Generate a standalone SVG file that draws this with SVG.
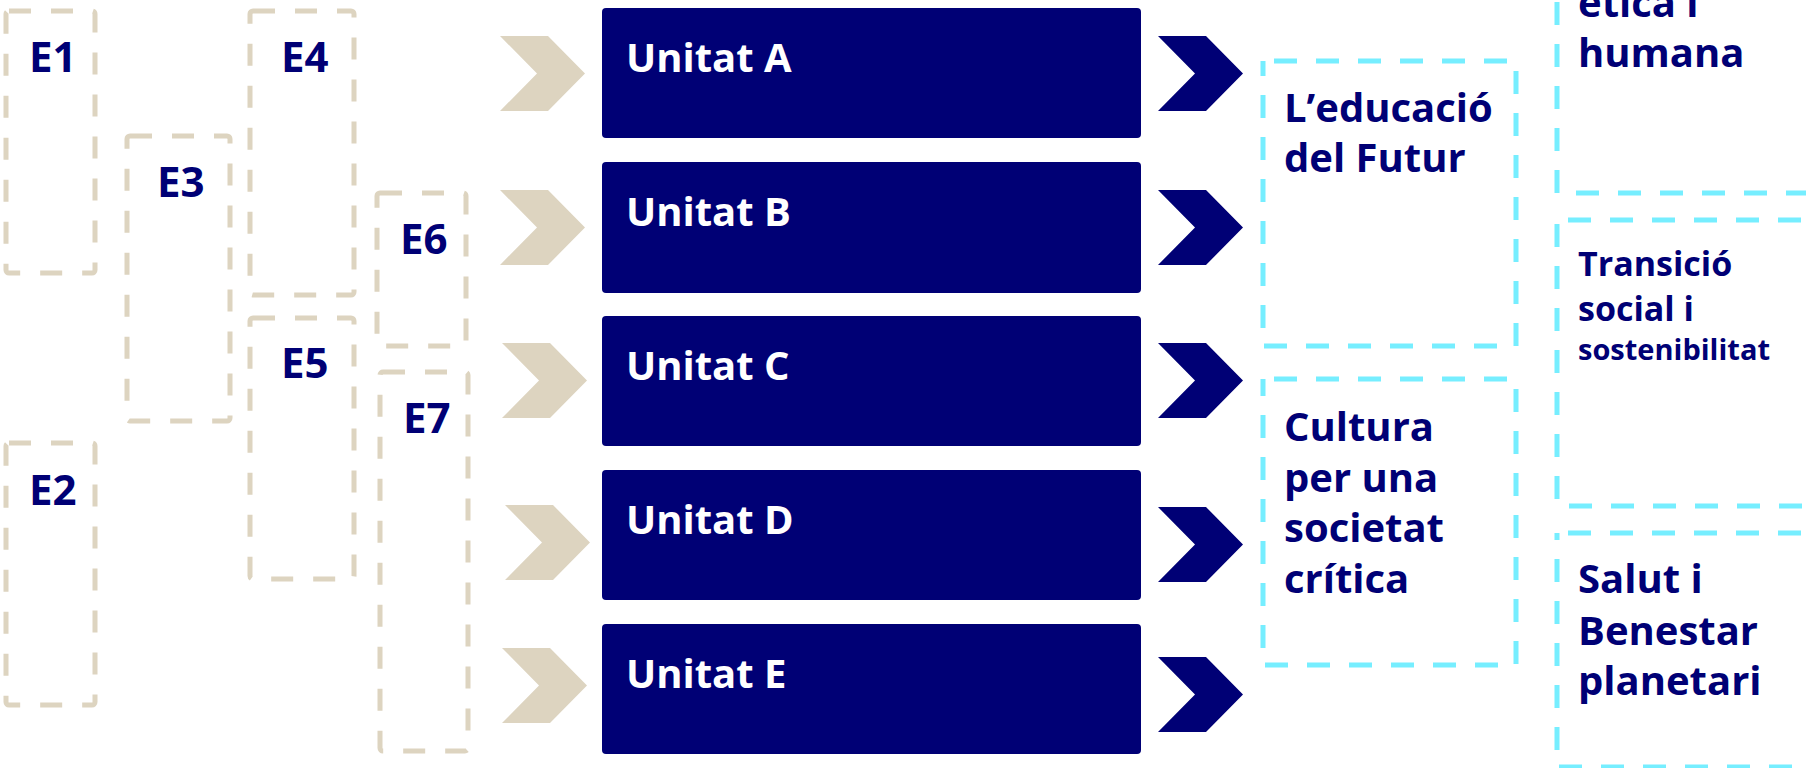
<svg xmlns="http://www.w3.org/2000/svg" width="1806" height="768" viewBox="0 0 1806 768">
<defs>
<style>
.bg{fill:#ffffff}
.ebox{fill:none;stroke:#DDD4C0;stroke-width:5;stroke-dasharray:22 20;}
.cbox{fill:none;stroke:#76EEFF;stroke-width:5;stroke-dasharray:23 19;stroke-dashoffset:31}
.unit{fill:#000075}
.chevL{fill:#DDD4C0}
.chevR{fill:#000075}
.lbl{font-family:"Open Sans","Noto Sans","Liberation Sans",sans-serif;font-weight:700;fill:#000075}
.ulbl{font-family:"Open Sans","Noto Sans","Liberation Sans",sans-serif;font-weight:700;fill:#ffffff;font-size:40px}
</style>
<path id="chev" d="M0,0 L48,0 L85,37.5 L48,75 L0,75 L37,37.5 Z"/>
</defs>
<rect class="bg" x="0" y="0" width="1806" height="768"/>

<g id="E1"><rect class="ebox" x="6" y="11" width="89" height="262" rx="3"/><text class="lbl" x="29" y="72" font-size="42">E1</text></g>
<g id="E2"><rect class="ebox" x="6" y="443" width="89" height="262" rx="3"/><text class="lbl" x="29" y="505" font-size="42">E2</text></g>
<g id="E3"><rect class="ebox" x="127" y="136" width="103" height="285" rx="3"/><text class="lbl" x="157" y="197" font-size="42">E3</text></g>
<g id="E4"><rect class="ebox" x="250" y="11" width="104" height="284" rx="3"/><text class="lbl" x="281" y="72" font-size="42">E4</text></g>
<g id="E5"><rect class="ebox" x="250" y="318" width="104" height="261" rx="3"/><text class="lbl" x="281" y="378" font-size="42">E5</text></g>
<g id="E6"><rect class="ebox" x="377" y="193" width="89" height="153" rx="3"/><text class="lbl" x="400" y="254" font-size="42">E6</text></g>
<g id="E7"><rect class="ebox" x="380" y="372" width="88" height="379" rx="3"/><text class="lbl" x="403" y="433" font-size="42">E7</text></g>

<g id="unitatA"><rect class="unit" x="602" y="8" width="539" height="130" rx="4"/><text class="ulbl" x="626" y="72">Unitat A</text></g>
<g id="unitatB"><rect class="unit" x="602" y="162" width="539" height="131" rx="4"/><text class="ulbl" x="626" y="226">Unitat B</text></g>
<g id="unitatC"><rect class="unit" x="602" y="316" width="539" height="130" rx="4"/><text class="ulbl" x="626" y="380">Unitat C</text></g>
<g id="unitatD"><rect class="unit" x="602" y="470" width="539" height="130" rx="4"/><text class="ulbl" x="626" y="534">Unitat D</text></g>
<g id="unitatE"><rect class="unit" x="602" y="624" width="539" height="130" rx="4"/><text class="ulbl" x="626" y="688">Unitat E</text></g>

<g id="educacio"><rect class="cbox" x="1263" y="61" width="253" height="285"/>
<text class="lbl" font-size="40"><tspan x="1284" y="122">L’educació</tspan><tspan x="1284" y="172">del Futur</tspan></text></g>
<g id="cultura"><rect class="cbox" x="1263" y="379" width="253" height="286"/>
<text class="lbl" font-size="40"><tspan x="1284" y="441">Cultura</tspan><tspan x="1284" y="492">per una</tspan><tspan x="1284" y="542">societat</tspan><tspan x="1284" y="593">crítica</tspan></text></g>

<g id="etica"><rect class="cbox" x="1557" y="-100" width="300" height="293"/>
<text class="lbl" font-size="40"><tspan x="1578" y="17">ètica i</tspan><tspan x="1578" y="67">humana</tspan></text></g>
<g id="transicio"><rect class="cbox" x="1557" y="220" width="300" height="286"/>
<text class="lbl"><tspan x="1578" y="276" font-size="34">Transició</tspan><tspan x="1578" y="321" font-size="34">social i</tspan><tspan x="1578" y="360" font-size="29">sostenibilitat</tspan></text></g>
<g id="salut"><rect class="cbox" x="1557" y="533" width="300" height="234"/>
<text class="lbl" font-size="40"><tspan x="1578" y="593">Salut i</tspan><tspan x="1578" y="645">Benestar</tspan><tspan x="1578" y="695">planetari</tspan></text></g>

<g id="connectors">
<use href="#chev" class="chevL" x="500" y="36"/>
<use href="#chev" class="chevL" x="500" y="190"/>
<use href="#chev" class="chevL" x="502" y="343"/>
<use href="#chev" class="chevL" x="505" y="505"/>
<use href="#chev" class="chevL" x="502" y="648"/>
<use href="#chev" class="chevR" x="1158" y="36"/>
<use href="#chev" class="chevR" x="1158" y="190"/>
<use href="#chev" class="chevR" x="1158" y="343"/>
<use href="#chev" class="chevR" x="1158" y="507"/>
<use href="#chev" class="chevR" x="1158" y="657"/>
</g>
</svg>
